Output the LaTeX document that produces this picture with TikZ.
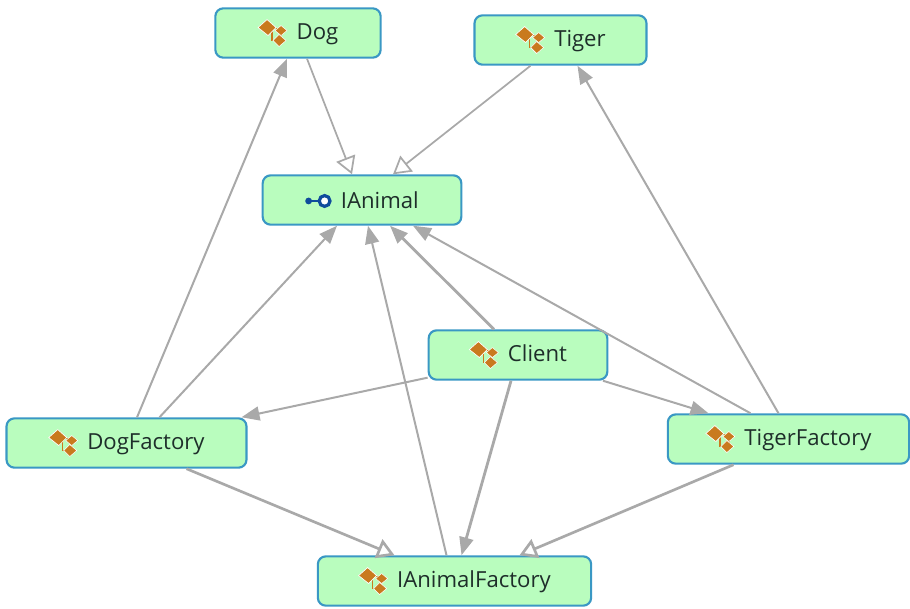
\documentclass[tikz,border=0pt]{standalone}
\usepackage{fontspec}
\setmainfont{Open Sans}
\usetikzlibrary{arrows.meta,positioning,calc}
\definecolor{boxfill}{HTML}{B9FDBE}
\definecolor{boxline}{HTML}{3A98C4}
\definecolor{edgegray}{HTML}{A9A9A9}
\definecolor{iconorange}{HTML}{C97A1E}
\definecolor{iconblue}{HTML}{0F4C9C}
\definecolor{labelink}{HTML}{1E2E2A}
% icons are built once and used inside the node texts
\newsavebox{\classbox}
\newsavebox{\ifacebox}
\sbox{\classbox}{\begin{tikzpicture}[x=.75pt,y=-.75pt,baseline=-15pt]
\draw[iconorange,line width=1.1pt] (10,9) -- (23,9) -- (23,17) (14,9) -- (14,21) -- (20,21);
\fill[iconorange,draw=white,line width=.5pt] (0,8) -- (9,0) -- (18,8) -- (10,16) -- cycle;
\fill[iconorange,draw=white,line width=.4pt] (17,11) -- (23,6) -- (29,11) -- (23,16) -- cycle;
\fill[iconorange,draw=white,line width=.4pt] (15,21) -- (21,15) -- (28,21) -- (21,27) -- cycle;
\end{tikzpicture}}
\sbox{\ifacebox}{\begin{tikzpicture}[x=.75pt,y=-.75pt,baseline=-5.5pt]
\fill[iconblue] (3,0) circle (3.4);
\draw[iconblue,line width=1.5pt] (3,0) -- (13,0);
\draw[iconblue,line width=2.4pt,fill=white] (19,0) circle (5.4);
\end{tikzpicture}}
\newcommand{\classname}[1]{\usebox{\classbox}\hspace{7pt}#1}
\tikzset{
  typebox/.style={draw=boxline,fill=boxfill,line width=1.6pt,rounded corners=6pt,
    minimum height=37pt,inner sep=0pt,text=labelink,font=\fontsize{16.6}{19}\selectfont},
  uses/.style={draw=edgegray,line width=1.5pt,-{Triangle[length=13.5pt,width=10.5pt,fill=edgegray]}},
  usesbold/.style={uses,line width=2.1pt},
  inherits/.style={draw=edgegray,line width=1.3pt,-{Triangle[open,length=13pt,width=15pt,fill=white]}},
  inheritsbold/.style={inherits,line width=2pt}
}
\begin{document}
\begin{tikzpicture}[x=.75pt,y=-.75pt]
\useasboundingbox (0,0) rectangle (910,608);
\node[typebox,minimum width=124pt] (dog) at (298,33) {\classname{Dog}};
\node[typebox,minimum width=129pt] (tiger) at (560.5,40) {\classname{Tiger}};
\node[typebox,minimum width=149pt] (ianimal) at (362,200) {\usebox{\ifacebox}\hspace{7pt}IAnimal};
\node[typebox,minimum width=134pt] (client) at (518,355) {\classname{Client}};
\node[typebox,minimum width=180pt] (dogfactory) at (126.5,443) {\classname{DogFactory}};
\node[typebox,minimum width=181pt] (tigerfactory) at (788.5,439) {\classname{TigerFactory}};
\node[typebox,minimum width=205pt] (ianimalfactory) at (454.5,581) {\classname{IAnimalFactory}};
% inheritance
\draw[inherits] ([xshift=6.75pt]dog.south) -- ([xshift=-7.5pt]ianimal.north);
\draw[inherits] ([xshift=-22.5pt]tiger.south) -- ([xshift=23.25pt]ianimal.north);
\draw[inheritsbold] ([xshift=45pt]dogfactory.south) -- ([xshift=-45pt]ianimalfactory.north);
\draw[inheritsbold] ([xshift=-41.25pt]tigerfactory.south) -- ([xshift=48.75pt]ianimalfactory.north);
% usage
\draw[uses] ([xshift=7.9pt]dogfactory.north) -- ([xshift=-8.25pt]dog.south);
\draw[uses] ([xshift=24.75pt]dogfactory.north) -- ([xshift=-18.75pt]ianimal.south);
\draw[uses] ([xshift=-6pt]ianimalfactory.north) -- ([xshift=4.5pt]ianimal.south);
\draw[usesbold] ([xshift=-18pt]client.north) -- ([xshift=21pt]ianimal.south);
\draw[uses] ([xshift=-28.5pt]tigerfactory.north) -- ([xshift=38.25pt]ianimal.south);
\draw[uses] ([xshift=-7.5pt]tigerfactory.north) -- ([xshift=12.75pt]tiger.south);
\draw[uses] ([yshift=-17pt]client.west) -- ([xshift=86.25pt]dogfactory.north);
\draw[uses] ([xshift=63.75pt]client.south) -- ([xshift=-60pt]tigerfactory.north);
\draw[usesbold] ([xshift=-5.25pt]client.south) -- ([xshift=5.25pt]ianimalfactory.north);
\end{tikzpicture}
\end{document}
